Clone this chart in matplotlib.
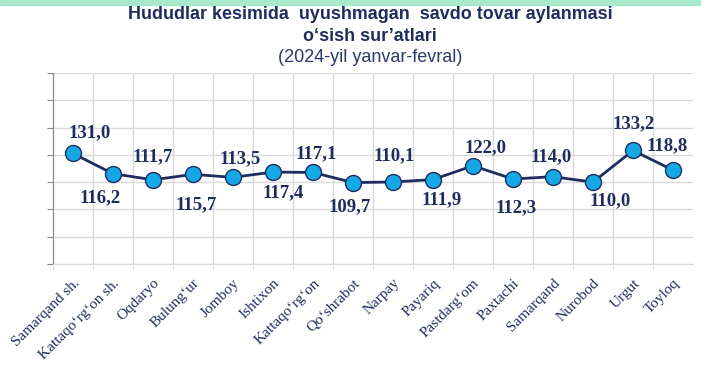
import matplotlib
matplotlib.use('Agg')
import matplotlib.pyplot as plt
import numpy as np
from matplotlib.ticker import FixedLocator

regions = ['Samarqand sh.', 'Kattaqo\u2018rg\u2018on sh.', 'Oqdaryo', 'Bulung\u2018ur',
           'Jomboy', 'Ishtixon', 'Kattaqo\u2018rg\u2018on', 'Qo\u2018shrabot', 'Narpay',
           'Payariq', 'Pastdarg\u2018om', 'Paxtachi', 'Samarqand', 'Nurobod', 'Urgut',
           'Toyloq']
growth = [131.0, 116.2, 111.7, 115.7, 113.5, 117.4, 117.1, 109.7, 110.1,
          111.9, 122.0, 112.3, 114.0, 110.0, 133.2, 118.8]

# label offsets in pixels (dx, dy)
label_off = [(17, 21), (-13, -24), (0, 23), (3, -30), (7, 19), (10, -21),
             (3, 19), (-3, -24), (1, 26), (9, -20), (13, 18), (3, -29),
             (-2, 20), (17, -19), (1, 27), (-6, 24)]

navy = '#1F2D5E'
fill = '#14A9E6'
grid_c = '#D9D9D9'

fig = plt.figure(figsize=(7.15, 3.71), dpi=100)
ax = fig.add_axes([53/715, 1-264/371, 640/715, 191/371])

x = np.arange(len(growth))
ax.plot(x, growth, '-', color=navy, lw=2.0, marker='o', ms=11.5,
        markerfacecolor=fill, markeredgecolor=navy, markeredgewidth=1.0, zorder=3)

for xi, v, (dx, dy) in zip(x, growth, label_off):
    ax.annotate(f'{v:.1f}'.replace('.', ','), xy=(xi, v), xytext=(dx, dy),
                textcoords='offset pixels', ha='center', va='center',
                fontsize=13.5, fontweight='bold', family='Liberation Serif',
                color=navy, zorder=4)

ax.set_xlim(-0.5, len(growth) - 0.5)
ax.set_ylim(50, 190)
ax.set_yticks(np.arange(50, 191, 20))
ax.set_yticklabels([])
ax.yaxis.grid(True, color=grid_c, lw=1.0)
ax.set_xticks(x)
ax.set_xticklabels(regions, rotation=45, ha='right', va='top',
                   rotation_mode='anchor', fontsize=11,
                   family='Liberation Serif', color=navy)
ax.xaxis.set_minor_locator(FixedLocator(np.arange(-0.5, len(growth) - 0.9, 1)))
ax.xaxis.grid(True, which='minor', color=grid_c, lw=1.0)
ax.tick_params(axis='x', which='major', length=0, pad=9)
ax.tick_params(axis='x', which='minor', length=4, color=grid_c)
ax.tick_params(axis='y', length=4, color='#868686')
ax.set_axisbelow(True)

for s in ['top', 'right']:
    ax.spines[s].set_visible(False)
ax.spines['left'].set_color('#868686')
ax.spines['bottom'].set_color(grid_c)

# titles
tfont = ['Liberation Sans', 'DejaVu Sans']
fig.text(370/715, 1-14.5/371, 'Hududlar kesimida  uyushmagan  savdo tovar aylanmasi',
         ha='center', va='center', fontsize=12.9, fontweight='bold',
         family=tfont, color=navy)
fig.text(370/715, 1-36.5/371, 'o\u2018sish sur\u2019atlari', ha='center', va='center',
         fontsize=12.9, fontweight='bold', family=tfont, color=navy)
fig.text(370/715, 1-58/371, '(2024-yil yanvar-fevral)', ha='center', va='center',
         fontsize=13, family=tfont, color='#2B3A66')

# decorative bar on top
fig.patches.append(plt.Rectangle((0, 1-5/371), 700/715, 5/371, transform=fig.transFigure,
                                 color='#A8E8CC', zorder=0))

plt.savefig('out.png', dpi=100)
